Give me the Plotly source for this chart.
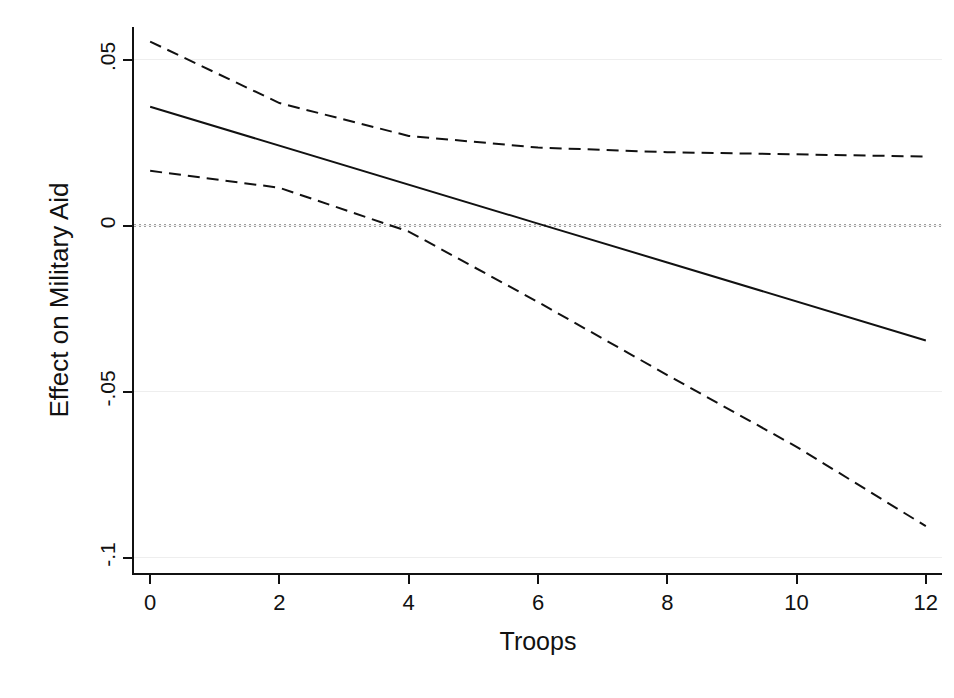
import plotly.graph_objects as go

troops = [0, 2, 4, 6, 8, 10, 12]
effect = [0.0358, 0.0240, 0.0123, 0.0006, -0.0111, -0.0229, -0.0346]
upper_ci = [0.0554, 0.0369, 0.0270, 0.0235, 0.0221, 0.0215, 0.0208]
lower_ci = [0.0165, 0.0114, -0.0018, -0.0230, -0.0450, -0.0666, -0.0905]

y_tickvals = [0.05, 0, -0.05, -0.1]
y_ticktext = [".05", "0", "-.05", "-.1"]
x_tickvals = [0, 2, 4, 6, 8, 10, 12]

font_family = "Liberation Sans, Arial, sans-serif"

fig = go.Figure()
fig.add_trace(go.Scatter(x=troops, y=upper_ci, mode="lines",
                         line=dict(color="#111111", width=2, dash="12px,7px"),
                         showlegend=False, hoverinfo="skip"))
fig.add_trace(go.Scatter(x=troops, y=lower_ci, mode="lines",
                         line=dict(color="#111111", width=2, dash="12px,7px"),
                         showlegend=False, hoverinfo="skip"))
fig.add_trace(go.Scatter(x=troops, y=effect, mode="lines",
                         line=dict(color="#111111", width=2),
                         showlegend=False))

# dotted zero reference line
fig.add_shape(type="line", xref="paper", yref="y", x0=0, x1=1, y0=0, y1=0,
              line=dict(color="#808080", width=2.5, dash="2px,3px"), layer="below")

fig.update_layout(
    width=954, height=698,
    margin=dict(l=134, r=12, t=27, b=125),
    paper_bgcolor="white", plot_bgcolor="white",
    font=dict(family=font_family, size=21, color="#111111"),
    xaxis=dict(
        range=[-0.25, 12.25], tickvals=x_tickvals,
        showline=True, linecolor="#111111", linewidth=1.5,
        ticks="outside", ticklen=9, tickwidth=1.5, tickcolor="#111111",
        showgrid=False, zeroline=False,
        title=dict(text="Troops", font=dict(size=25), standoff=18),
        tickfont=dict(size=22),
    ),
    yaxis=dict(
        range=[-0.1046, 0.0598], tickvals=y_tickvals, ticktext=y_ticktext,
        tickangle=-90,
        showline=True, linecolor="#111111", linewidth=1.5,
        ticks="outside", ticklen=9, tickwidth=1.5, tickcolor="#111111",
        showgrid=True, gridcolor="#eeeeee", gridwidth=1, zeroline=False,
        title=dict(text="Effect on Military Aid", font=dict(size=26), standoff=20),
        tickfont=dict(size=21),
    ),
)

fig.write_html("out.html", config={"displayModeBar": False},
               post_script="document.body.style.margin='0px';")
